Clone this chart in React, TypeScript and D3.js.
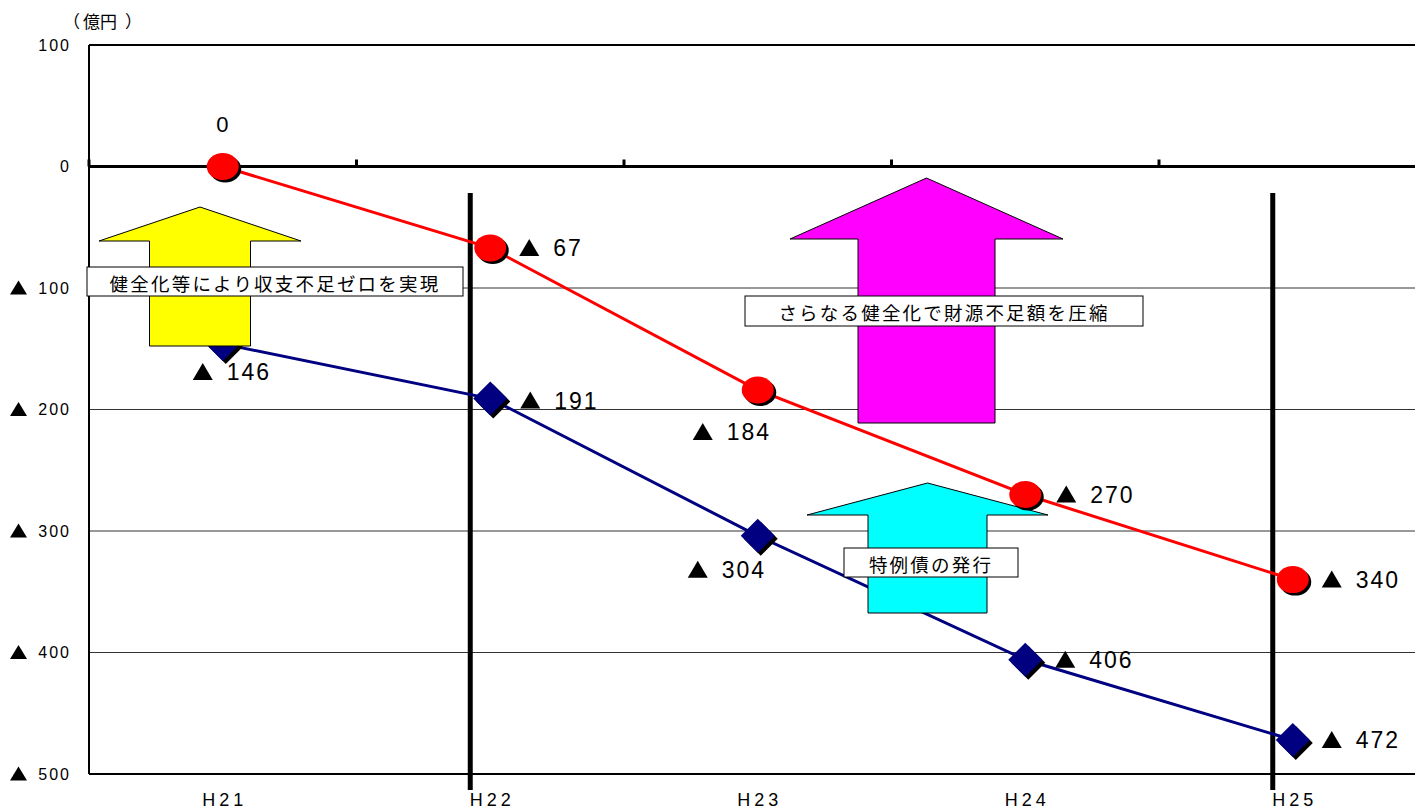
import React from "react";
import * as d3 from "d3";

const categories = ["H21", "H22", "H23", "H24", "H25"];
const redValues = [0, -67, -184, -270, -340];
const blueValues = [-146, -191, -304, -406, -472];
const yTicks = [100, 0, -100, -200, -300, -400, -500];
const gridTicks = [-100, -200, -300, -400];
const dividerCategories = ["H22", "H25"];
const redLabelOffsets: [number, number][] = [[0, -42], [29, 0], [-65, 42], [31, 0], [29, 0]];
const blueLabelOffsets: [number, number][] = [[-30, 28], [30, 2], [-70, 34], [30, 0], [29, 0]];
const annotations = [
  { fill: "#ffff00", cx: 200, tip: 207, base: 241, bottom: 346, head: 101, shaft: 50.5 },
  { fill: "#ff00ff", cx: 926.5, tip: 178, base: 239, bottom: 423, head: 136.5, shaft: 68.5 },
  { fill: "#00ffff", cx: 927.5, tip: 483, base: 515, bottom: 613, head: 120.5, shaft: 59.5 },
];
const boxes = [
  { text: "健全化等により収支不足ゼロを実現", x: 87, y: 267, w: 376, h: 29 },
  { text: "さらなる健全化で財源不足額を圧縮", x: 745, y: 296, w: 398, h: 30 },
  { text: "特例債の発行", x: 844, y: 548, w: 174, h: 29 },
];

const W = 1415, H = 809;
const LEFT = 89, TOP = 45, BOTTOM = 774;
const JP = "'Noto Sans CJK JP', 'Liberation Sans', sans-serif";
const NUM = "'Liberation Sans', Arial, sans-serif";

export default function App() {
  const x = d3.scaleBand<string>().domain(categories).range([LEFT, LEFT + 5 * 267.5]);
  const xc = (c: string) => (x(c) as number) + x.bandwidth() / 2;
  const y = d3.scaleLinear().domain([100, -500]).range([TOP, BOTTOM]);
  const line = d3.line<number>().x((_, i) => xc(categories[i])).y((d) => y(d));

  const arrowPath = (a: typeof annotations[number]) =>
    `M${a.cx},${a.tip} L${a.cx + a.head},${a.base} L${a.cx + a.shaft},${a.base} L${a.cx + a.shaft},${a.bottom} L${a.cx - a.shaft},${a.bottom} L${a.cx - a.shaft},${a.base} L${a.cx - a.head},${a.base} Z`;

  const tri = (px: number, py: number, w: number, h: number) =>
    `M${px},${py + h / 2} L${px + w},${py + h / 2} L${px + w / 2},${py - h / 2} Z`;

  const label = (v: number, px: number, py: number, key: string) => {
    if (v === 0) {
      return (
        <text key={key} x={px} y={py} textAnchor="middle" dominantBaseline="central" fontFamily={NUM} fontSize={22} letterSpacing={1}>0</text>
      );
    }
    return (
      <g key={key}>
        <path d={tri(px, py - 0.5, 20, 17)} fill="#000" />
        <text x={px + 34} y={py} dominantBaseline="central" fontFamily={NUM} fontSize={23} letterSpacing={2}>{-v}</text>
      </g>
    );
  };

  return (
    <svg width={W} height={H} style={{ position: "absolute", left: 0, top: 0, background: "#fff" }}>
      {/* axis title */}
      <text y={20} dominantBaseline="central" fontFamily={JP} fontSize={17}>
        <tspan x={63}>（</tspan>
        <tspan x={83}>億</tspan>
        <tspan x={100}>円</tspan>
        <tspan x={125}>）</tspan>
      </text>

      {/* grid */}
      {gridTicks.map((t) => (
        <line key={t} x1={LEFT} x2={W} y1={y(t)} y2={y(t)} stroke="#333" strokeWidth={1} />
      ))}
      {/* frame */}
      <line x1={LEFT} x2={W} y1={TOP} y2={TOP} stroke="#000" strokeWidth={2} />
      <line x1={LEFT} x2={W} y1={BOTTOM} y2={BOTTOM} stroke="#000" strokeWidth={2} />
      <line x1={LEFT} x2={LEFT} y1={TOP} y2={BOTTOM} stroke="#000" strokeWidth={2} />
      <line x1={LEFT} x2={W} y1={y(0)} y2={y(0)} stroke="#000" strokeWidth={3} />
      {categories.map((c) => (
        <line key={c} x1={x(c) as number} x2={x(c) as number} y1={y(0) - 7} y2={y(0)} stroke="#000" strokeWidth={3} />
      ))}

      {/* y labels */}
      {yTicks.map((t) => (
        <g key={t}>
          {t < 0 && <path d={tri(10, y(t) - 0.5, 17, 14)} fill="#000" />}
          <text x={71} y={y(t)} textAnchor="end" dominantBaseline="central" fontFamily={NUM} fontSize={16} letterSpacing={2}>{Math.abs(t)}</text>
        </g>
      ))}
      {/* x labels */}
      {categories.map((c) => (
        <text key={c} x={xc(c) + 2} y={800} textAnchor="middle" dominantBaseline="central" fontFamily={NUM} fontSize={18} letterSpacing={4}>{c}</text>
      ))}

      {/* divider lines */}
      {dividerCategories.map((c) => (
        <line key={c} x1={xc(c) - 20} x2={xc(c) - 20} y1={193} y2={790} stroke="#000" strokeWidth={5} />
      ))}

      {/* blue series */}
      <path d={line(blueValues) || ""} fill="none" stroke="#000080" strokeWidth={3} />
      {blueValues.map((v, i) => {
        const px = xc(categories[i]), py = y(v);
        const d = (ox: number, oy: number) => `M${px + ox},${py - 17 + oy} L${px + 17 + ox},${py + oy} L${px + ox},${py + 17 + oy} L${px - 17 + ox},${py + oy} Z`;
        return (
          <g key={i}>
            <path d={d(3, 3)} fill="#000" />
            <path d={d(0, 0)} fill="#000080" />
          </g>
        );
      })}
      {/* red line */}
      <path d={line(redValues) || ""} fill="none" stroke="#ff0000" strokeWidth={3} />

      {/* arrows */}
      {annotations.map((a, i) => (
        <path key={i} d={arrowPath(a)} fill={a.fill} stroke="#000" strokeWidth={1} />
      ))}

      {/* red markers */}
      {redValues.map((v, i) => {
        const px = xc(categories[i]), py = y(v);
        return (
          <g key={i}>
            <ellipse cx={px + 2.5} cy={py + 2.5} rx={16} ry={13.5} fill="#000" />
            <ellipse cx={px} cy={py} rx={16} ry={13.5} fill="#ff0000" />
          </g>
        );
      })}

      {/* text boxes */}
      {boxes.map((b, i) => (
        <g key={i}>
          <rect x={b.x} y={b.y} width={b.w} height={b.h} fill="#fff" stroke="#000" strokeWidth={1} />
          <text x={b.x + b.w / 2} y={b.y + b.h / 2 + 1} textAnchor="middle" dominantBaseline="central" fontFamily={JP} fontSize={18.5} letterSpacing={2.2}>{b.text}</text>
        </g>
      ))}

      {/* value labels */}
      {redValues.map((v, i) => label(v, xc(categories[i]) + redLabelOffsets[i][0], y(v) + redLabelOffsets[i][1], `r${i}`))}
      {blueValues.map((v, i) => label(v, xc(categories[i]) + blueLabelOffsets[i][0], y(v) + blueLabelOffsets[i][1], `b${i}`))}
    </svg>
  );
}
